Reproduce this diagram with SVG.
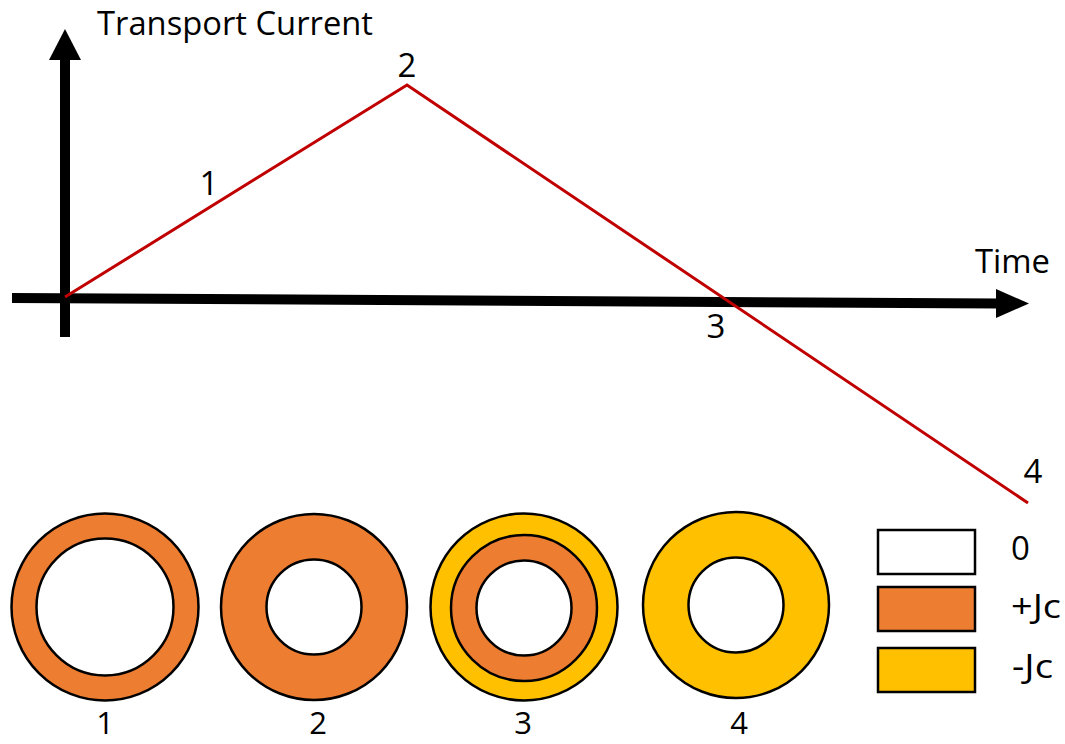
<svg xmlns="http://www.w3.org/2000/svg" width="1065" height="744" viewBox="0 0 1065 744">
<style>
text{font-family:"Open Sans","Liberation Sans",sans-serif;font-size:33px;fill:#000}
text.b{font-size:31px}
.ring{stroke:#000;stroke-width:2.5}
.or{fill:#ED7D31}.ye{fill:#FFC000}.wh{fill:#fff}
</style>
<rect width="1065" height="744" fill="#fff"/>
<g id="axes">
<line x1="65" y1="337" x2="65" y2="58" stroke="#000" stroke-width="10"/>
<polygon points="49,60 65,29 81,60" fill="#000"/>
<line x1="12" y1="298" x2="999" y2="303.5" stroke="#000" stroke-width="10"/>
<polygon points="996,289 1029,303.5 996,318" fill="#000"/>
<text x="97" y="35" textLength="276" lengthAdjust="spacingAndGlyphs">Transport Current</text>
<text x="975" y="273" textLength="75" lengthAdjust="spacingAndGlyphs">Time</text>
</g>
<g id="connectors">
<polyline points="65,297 407,85 1028,503" fill="none" stroke="#C00000" stroke-width="3"/>
</g>
<g id="curve-labels">
<text x="209" y="195" text-anchor="middle">1</text>
<text x="407" y="77" text-anchor="middle">2</text>
<text x="716" y="338" text-anchor="middle">3</text>
<text x="1033" y="483" text-anchor="middle">4</text>
</g>
<g id="ring1">
<circle class="ring or" cx="105" cy="607" r="93.5"/>
<circle class="ring wh" cx="105" cy="607" r="68.5"/>
<text class="b" x="105" y="734" text-anchor="middle">1</text>
</g>
<g id="ring2">
<circle class="ring or" cx="314" cy="607" r="93"/>
<circle class="ring wh" cx="314" cy="607" r="47.5"/>
<text class="b" x="318" y="734" text-anchor="middle">2</text>
</g>
<g id="ring3">
<circle class="ring ye" cx="524" cy="607" r="93.5"/>
<circle class="ring or" cx="524" cy="608" r="73"/>
<circle class="ring wh" cx="524" cy="608" r="47.5"/>
<text class="b" x="523" y="734" text-anchor="middle">3</text>
</g>
<g id="ring4">
<circle class="ring ye" cx="736" cy="605" r="93"/>
<circle class="ring wh" cx="736" cy="605" r="47.5"/>
<text class="b" x="739" y="734" text-anchor="middle">4</text>
</g>
<g id="legend">
<rect class="ring wh" x="878" y="530" width="97" height="44"/>
<rect class="ring or" x="878" y="587" width="97" height="44"/>
<rect class="ring ye" x="878" y="648" width="97" height="44"/>
<text x="1011" y="560">0</text>
<text x="1011" y="618" textLength="50" lengthAdjust="spacingAndGlyphs">+Jc</text>
<text x="1012" y="678" textLength="41" lengthAdjust="spacingAndGlyphs">-Jc</text>
</g>
</svg>
